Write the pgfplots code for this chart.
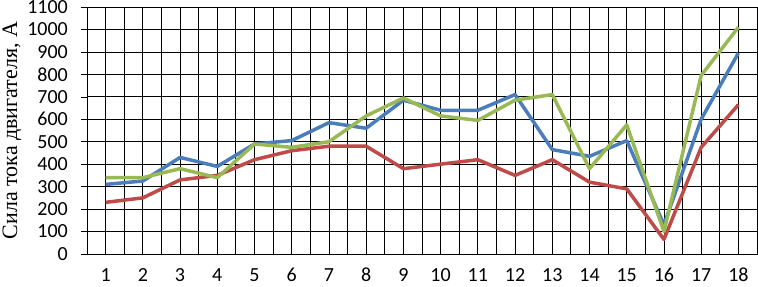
\documentclass[border=0pt]{standalone}
\usepackage{pgfplots}
\pgfplotsset{compat=1.18}
\usepackage{fontspec}
\setmainfont{Liberation Serif}
\newfontfamily\tickfont{Carlito}
\definecolor{sblue}{HTML}{4A7EBB}
\definecolor{sred}{HTML}{BE4B48}
\definecolor{sgreen}{HTML}{98B954}
\begin{document}
\begin{tikzpicture}
\useasboundingbox (-87bp,-33bp) rectangle (671bp,254bp);
\begin{axis}[
  scale only axis,
  width=670bp, height=247bp,
  xmin=0.5, xmax=18.5,
  ymin=0, ymax=1100,
  xtick={1,...,18},
  minor xtick={0.5,1.5,...,18.5},
  ytick={0,100,...,1100},
  tick align=outside,
  major tick length=6bp,
  minor tick length=6bp,
  xtick style={draw=none},
  minor x tick style={black, line width=0.6bp},
  ytick style={black, line width=0.6bp},
  xmajorgrids, xminorgrids, ymajorgrids,
  grid style={black, line width=0.8bp},
  minor grid style={black, line width=0.8bp},
  axis line style={black, line width=0.8bp},
  tick label style={font=\tickfont\fontsize{20bp}{22bp}\selectfont},
  /pgf/number format/assume math mode=true,
  /pgf/number format/1000 sep={},
  xticklabel style={anchor=base, yshift=-21.5bp, inner sep=0pt},
  yticklabel style={anchor=east, xshift=-12bp, inner sep=1pt},
  ylabel={Сила тока двигателя, А},
  every axis y label/.style={at={(axis description cs:0,0.5)}, xshift=-75bp, rotate=90, anchor=center, font=\fontsize{22bp}{24bp}\selectfont, inner sep=0pt},
  clip=false,
]
\addplot[sblue, line width=3.5bp, line join=round] coordinates {
(1,310)(2,325)(3,430)(4,390)(5,490)(6,505)(7,585)(8,560)(9,685)(10,640)(11,640)(12,710)(13,465)(14,435)(15,505)(16,130)(17,600)(18,895)};
\addplot[sred, line width=3.5bp, line join=round] coordinates {
(1,230)(2,250)(3,330)(4,350)(5,420)(6,460)(7,480)(8,480)(9,380)(10,400)(11,420)(12,350)(13,420)(14,320)(15,290)(16,65)(17,475)(18,665)};
\addplot[sgreen, line width=3.5bp, line join=round] coordinates {
(1,340)(2,340)(3,380)(4,340)(5,490)(6,475)(7,500)(8,615)(9,695)(10,615)(11,595)(12,685)(13,710)(14,380)(15,575)(16,100)(17,795)(18,1010)};
\end{axis}
\end{tikzpicture}
\end{document}
